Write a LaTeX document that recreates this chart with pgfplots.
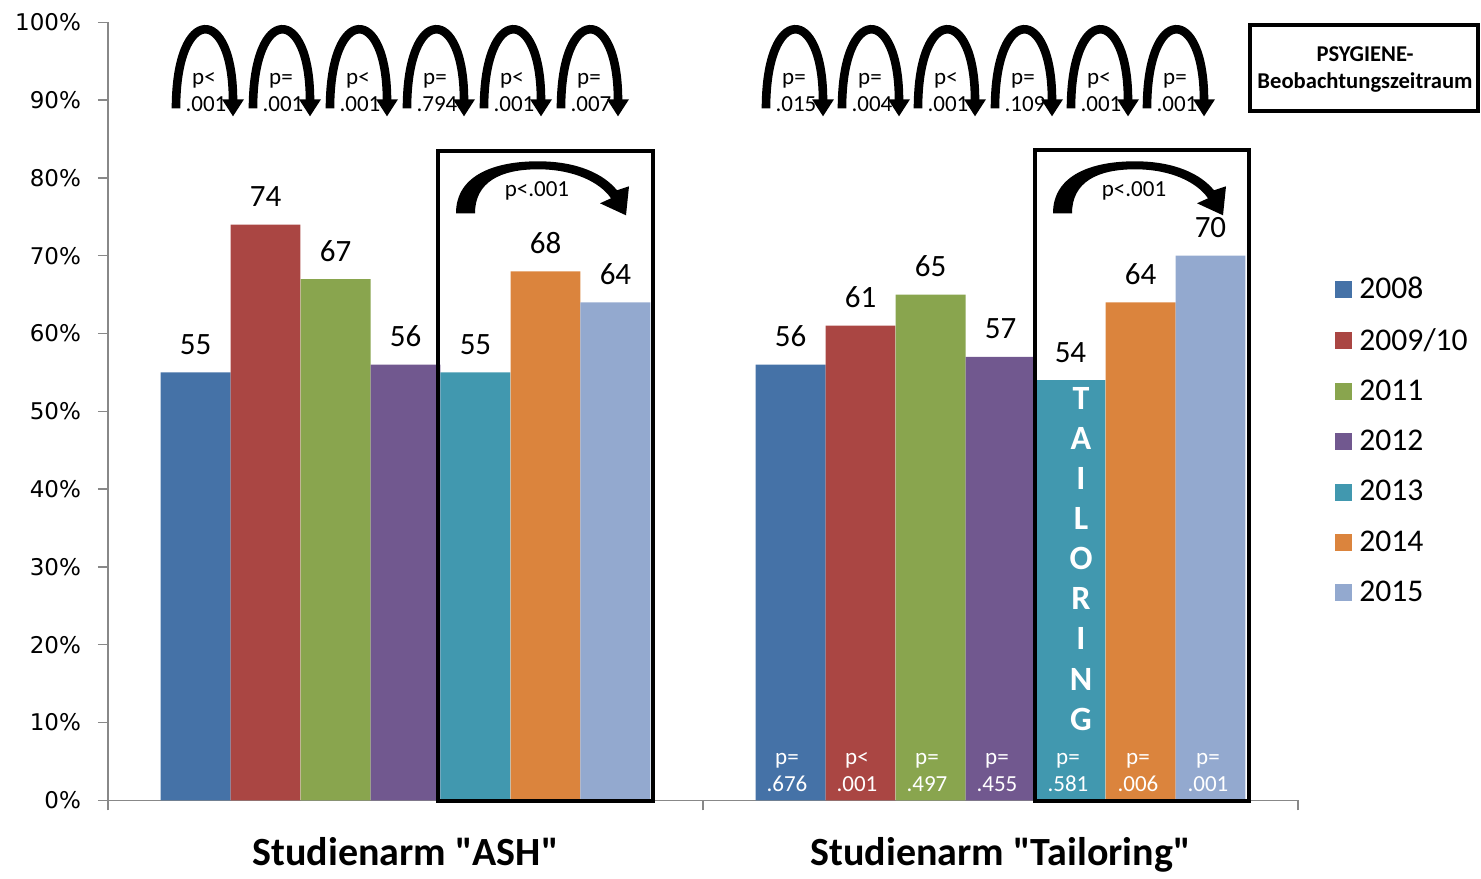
\documentclass[border=0pt]{standalone}
\usepackage{pgfplots}
\pgfplotsset{compat=1.18}
\usepackage{fontspec}
\setmainfont{Carlito}
\newfontfamily\tickfont{DejaVu Sans}
\newfontfamily\grpfont{Carlito}[Ligatures=TeXOff]

\definecolor{c2008}{HTML}{4572A7}
\definecolor{c2009}{HTML}{AA4643}
\definecolor{c2011}{HTML}{89A54E}
\definecolor{c2012}{HTML}{71588F}
\definecolor{c2013}{HTML}{4198AF}
\definecolor{c2014}{HTML}{DB843D}
\definecolor{c2015}{HTML}{93A9CF}
\definecolor{axisgray}{HTML}{888888}

\newcommand{\fs}[2]{\fontsize{#1}{#2}\selectfont}
\newcommand{\pfont}{\fs{11.5pt}{13pt}}

% one bar series: fill colour as argument, square legend key, value above the bar
\pgfplotsset{
  yearbar/.style={
    ybar, bar width=0.1176, bar shift=0pt, draw=none, fill=#1,
    nodes near coords,
    every node near coord/.append style={font=\fs{15.5pt}{18pt}, text=black, anchor=base, yshift=9pt},
    legend image code/.code={\fill[##1] (0pt,-4.25pt) rectangle (8.5pt,4.25pt);},
  },
}

% arched arrow between two neighbouring years (x = left leg, units of 0.5pt, y downwards)
\newcommand{\arch}[3]{%
  \draw[line width=4.3pt] (#1,107) .. controls (#1,3) and (#1+57,3) .. (#1+57,99);
  \fill (#1+46,98) -- (#1+68,98) -- (#1+57,115) -- cycle;
  \node[anchor=base, font=\pfont] at (#1+28,83) {#2};
  \node[anchor=base, font=\pfont] at (#1+30,110) {#3};
}

% curved arrow 2013 -> 2015 inside a framed block (x = left frame edge)
\newcommand{\boxarrow}[1]{%
  \fill (#1+18,212) .. controls (#1+18,173) and (#1+58,160) .. (#1+100,160)
        .. controls (#1+140,160) and (#1+166,173) .. (#1+179,189)
        -- (#1+191,185) -- (#1+188,214) -- (#1+162,202) -- (#1+173,197)
        .. controls (#1+162,181) and (#1+136,168) .. (#1+100,168)
        .. controls (#1+62,168) and (#1+37,181) .. (#1+37,212) -- cycle;
  \node[font=\pfont] at (#1+99,190) {p<.001};
}

\begin{document}
\begin{tikzpicture}
\begin{axis}[
  scale only axis, width=595pt, height=389pt,
  xmin=0, xmax=2, ymin=0, ymax=100,
  axis x line*=bottom, axis y line*=left,
  axis line style={draw=axisgray, line width=0.75pt},
  clip=false,
  xtick={0.5,1.5},
  xticklabels={Studienarm "ASH", Studienarm "Tailoring"},
  minor xtick={0,1,2},
  major x tick style={draw=none},
  minor x tick style={draw=axisgray, line width=0.75pt},
  minor tick length=5pt,
  major tick length=5pt,
  tick align=outside,
  ytick={0,10,...,100},
  y tick style={draw=axisgray, line width=0.75pt},
  /pgf/number format/assume math mode=true,
  yticklabel={\pgfmathprintnumber{\tick}\%},
  yticklabel style={font=\tickfont\fs{11.5pt}{13pt}, text=black, xshift=-5pt},
  xticklabel style={font=\grpfont\bfseries\fs{20pt}{23pt}, anchor=base, yshift=-27.5pt},
  legend style={at={(axis cs:2.0622,67.86)}, anchor=north west, draw=none, fill=none,
    inner sep=0pt, font=\fs{15.8pt}{18pt}, row sep=9.4pt,
    /tikz/every odd column/.append style={column sep=1.5pt}},
  legend cell align=left,
]
% columns: Studienarm "ASH" (x around 0.5), Studienarm "Tailoring" (x around 1.5)
\addplot[yearbar=c2008] coordinates {(0.1471,55) (1.1471,56)};
\addplot[yearbar=c2009] coordinates {(0.2647,74) (1.2647,61)};
\addplot[yearbar=c2011] coordinates {(0.3824,67) (1.3824,65)};
\addplot[yearbar=c2012] coordinates {(0.5000,56) (1.5000,57)};
\addplot[yearbar=c2013] coordinates {(0.6176,55) (1.6176,54)};
\addplot[yearbar=c2014] coordinates {(0.7353,68) (1.7353,64)};
\addplot[yearbar=c2015] coordinates {(0.8529,64) (1.8529,70)};
\legend{2008, 2009/10, 2011, 2012, 2013, 2014, 2015}
\coordinate (O) at (axis cs:0,0);
\end{axis}

\begin{scope}[shift={(O)}, x=0.5pt, y=-0.5pt, shift={(-108,-799)}]
  \path (0,0) rectangle (1481,870);
  % frames around the 2013-2015 block
  \draw[line width=2pt] (438,150) rectangle (653,800);
  \draw[line width=2pt] (1035,149) rectangle (1249,800);
  \boxarrow{438}
  \boxarrow{1035}
  % year-to-year tests
  \arch{176}{p<}{.001}
  \arch{253}{p=}{.001}
  \arch{330}{p<}{.001}
  \arch{407}{p=}{.794}
  \arch{484}{p<}{.001}
  \arch{561}{p=}{.007}
  \arch{766}{p=}{.015}
  \arch{842}{p=}{.004}
  \arch{918}{p<}{.001}
  \arch{995}{p=}{.109}
  \arch{1071}{p<}{.001}
  \arch{1147}{p=}{.001}
  % ASH vs. Tailoring per year
  \foreach \x/\a/\b in {787/p=/.676, 857/p</.001, 927/p=/.497, 997/p=/.455,
                         1068/p=/.581, 1138/p=/.006, 1208/p=/.001}{
    \node[anchor=base, font=\pfont, text=white] at (\x,763) {\a};
    \node[anchor=base, font=\pfont, text=white] at (\x,790) {\b};
  }
  \foreach \l [count=\i] in {T,A,I,L,O,R,I,N,G}{
    \node[anchor=base, font=\bfseries\fs{17pt}{20pt}, text=white] at (1081,{408+40.1*(\i-1)}) {\l};
  }
  % observation period box
  \draw[line width=2pt] (1250,24) rectangle (1478,110);
  \node[anchor=base, font=\bfseries\fs{11.3pt}{13pt}] at (1365,60) {PSYGIENE-};
  \node[anchor=base, font=\bfseries\fs{11.3pt}{13pt}] at (1365,87) {Beobachtungszeitraum};
\end{scope}
\end{tikzpicture}
\end{document}
